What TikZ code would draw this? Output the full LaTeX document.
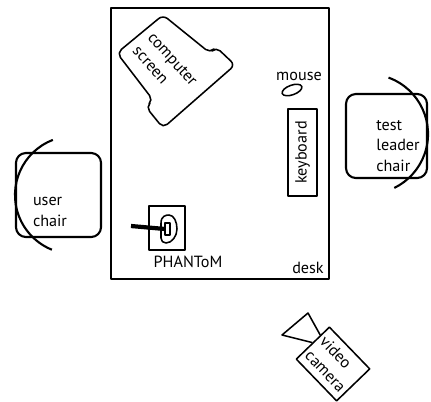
\documentclass[tikz,border=0pt]{standalone}
\usepackage{fontspec}
\setmainfont{PT Sans}
\usetikzlibrary{shapes.geometric,calc}

\begin{document}
\begin{tikzpicture}[x=0.025cm, y=-0.025cm, line join=round,
    lbl/.style={font=\fontsize{11.5}{14.5}\selectfont, inner sep=0pt, align=left},
    thing/.style={line width=1.1pt},
    chair/.style={line width=1.5pt, rounded corners=7pt}]
  \useasboundingbox (0,0) rectangle (431,401);

  % the desk
  \draw[line width=1.3pt] (111,8) rectangle (329,279);
  \node[lbl] (desk) at (308,268) {desk};

  % screen, seen from above
  \draw[thing, rounded corners=4pt] (163,15) -- (210,53) -- (216,47) -- (235,65)
    -- (163,128) -- (146,107) -- (153,100) -- (117,53) -- cycle;
  \node[lbl, rotate=-48] (screen) at (165,66) {computer\\screen};

  % mouse + keyboard
  \node[lbl] (mouse) at (299,76) {mouse};
  \node[draw, thing, ellipse, rotate=20, inner sep=0pt,
        minimum width=0.52cm, minimum height=0.24cm] (mousebody) at (292,90) {};
  \draw[thing] (288,109) rectangle (317,196);
  \node[lbl, rotate=90] (keyboard) at (302.5,152.5) {keyboard};

  % PHANToM with its stylus
  \draw[thing] (149,206) rectangle (185,250);
  \draw[thing] (161,238) -- (161,223) .. controls (161,216) and (166,215) .. (169,215)
    .. controls (174,215) and (177,222) .. (177,229)
    .. controls (177,236) and (172,243) .. (166,243)
    .. controls (163,243) and (161,241) .. (161,238);
  \draw[thing] (165,223) rectangle (170,235);
  \draw[line width=3pt] (131,226) -- (165,229);
  \node[lbl] (phantom) at (188,262) {PHANToM};

  % chairs
  \draw[chair] (16,153) rectangle (101,237);
  \draw[chair] (74,195) ++(249:59) arc[start angle=249, end angle=112, radius=59];
  \node[lbl] (user) at (50,212) {user\\chair};

  \draw[chair] (346,94) rectangle (427,178);
  \draw[chair] (368,134) ++(-70:60) arc[start angle=-70, end angle=64, radius=60];
  \node[lbl] (leader) at (398,146) {test\\leader\\chair};

  % camera
  \node[draw, thing, lbl, rotate=-46, minimum width=1.45cm, minimum height=1.15cm]
    (cam) at (333,364) {video\\camera};
  \coordinate (lensA) at (308,313);
  \coordinate (lensB) at (282,335);
  \draw[thing] ($(cam.north west)!0.27!(cam.south west)$) -- (lensA) -- (lensB)
    -- ($(cam.north west)!0.5!(cam.south west)$);
\end{tikzpicture}
\end{document}
